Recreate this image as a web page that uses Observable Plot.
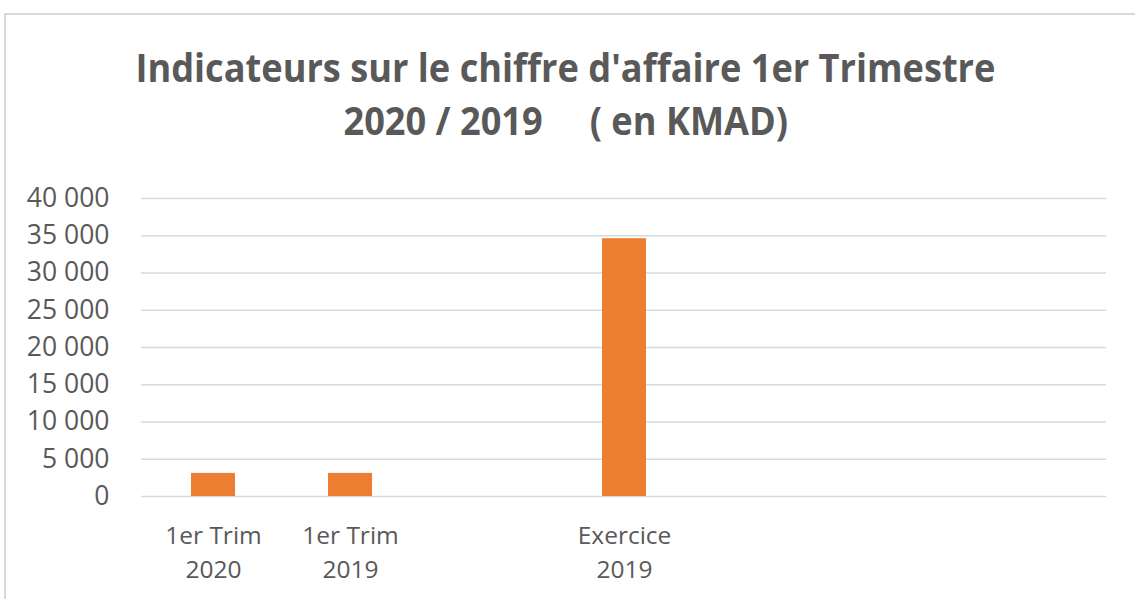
<!DOCTYPE html>
<html>
<head>
<meta charset="utf-8">
<script src="https://cdn.jsdelivr.net/npm/d3@7"></script>
<script src="https://cdn.jsdelivr.net/npm/@observablehq/plot@0.6"></script>
<style>
  html, body { margin: 0; padding: 0; background: #fff; }
  #wrap { position: relative; width: 1135px; height: 599px; overflow: hidden; background: #fff; }
  #frame { position: absolute; left: 4px; top: 13px; width: 1200px; height: 700px; border: 2px solid #d9d9d9; box-sizing: border-box; }
  .tl { position: absolute; left: -2px; width: 1135px; text-align: center; font-family: "Open Sans", sans-serif; font-weight: 700; font-size: 40px; line-height: 40px; color: #595959; white-space: pre; }
  .tl span { display: inline-block; transform-origin: 50% 50%; }
  #chart { position: absolute; left: 0; top: 170px; }
</style>
</head>
<body>
<div id="wrap">
  <div id="frame"></div>
  <div class="tl" id="t1" style="top:47px;"><span>Indicateurs sur le chiffre d'affaire 1er Trimestre</span></div>
  <div class="tl" id="t2" style="top:100px;"><span>2020 / 2019     ( en KMAD)</span></div>
  <div id="chart"></div>
</div>
<script>
const categories = ["1er Trim\n2020", "1er Trim\n2019", "Exercice\n2019"];
const values = [3100, 3100, 34600];
const xSlots = ["1er Trim\n2020", "1er Trim\n2019", "_a", "Exercice\n2019", "_b", "_c", "_d"];
const yTicks = [0, 5000, 10000, 15000, 20000, 25000, 30000, 35000, 40000];

const data = categories.map((c, i) => ({category: c, value: values[i]}));
const fmt = d3.formatLocale({thousands: " ", grouping: [3], decimal: ","}).format(",");

const chart = Plot.plot({
  width: 1135,
  height: 429,
  marginTop: 28,
  marginBottom: 103,
  marginLeft: 141,
  marginRight: 29,
  style: {fontFamily: "Open Sans, sans-serif", color: "#595959", background: "transparent"},
  x: {type: "band", domain: xSlots, paddingInner: 0.68, paddingOuter: 0.34},
  y: {domain: [0, 40000]},
  marks: [
    Plot.gridY(yTicks, {stroke: "#d9d9d9", strokeOpacity: 1, strokeWidth: 1.6}),
    Plot.barY(data, {x: "category", y: "value", fill: "#ED7D31"}),
    Plot.axisY(yTicks, {tickSize: 0, tickPadding: 32, tickFormat: fmt, fontSize: 26.5, fill: "#595959", label: null}),
    Plot.axisX(categories, {tickSize: 0, tickPadding: 23, fontSize: 24.5, lineHeight: 1.4, fill: "#595959", label: null})
  ]
});
document.getElementById("chart").appendChild(chart);

// fit title lines to the reference width
const s1 = document.querySelector("#t1 span");
const scale = 860 / s1.getBoundingClientRect().width;
document.querySelectorAll(".tl span").forEach(s => { s.style.transform = `scaleX(${scale})`; });
</script>
</body>
</html>
